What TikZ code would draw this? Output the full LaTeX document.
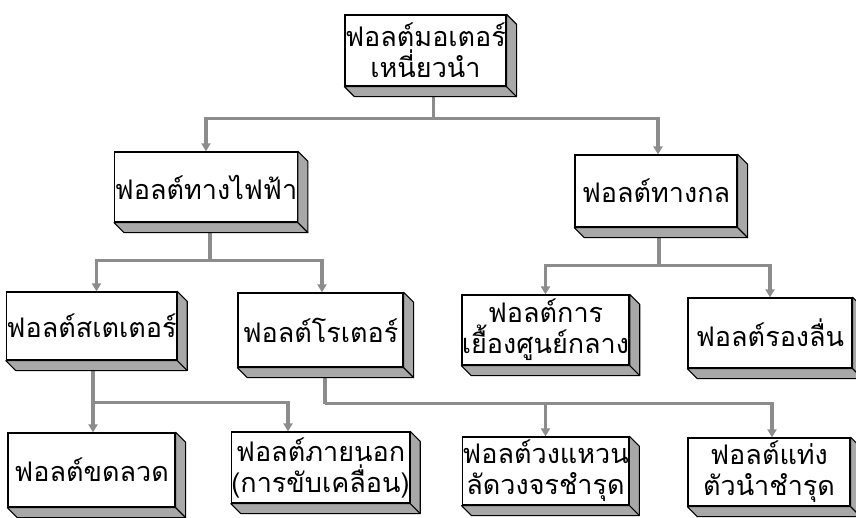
\documentclass[tikz,border=0pt]{standalone}
\usepackage{fontspec}
\newfontfamily\thaifont[Script=Thai]{Loma}
\usetikzlibrary{arrows.meta,backgrounds}
\definecolor{linegray}{RGB}{140,140,140}
\definecolor{slabgray}{RGB}{168,168,168}
\tikzset{
  tbox/.style={draw=black, line width=1.3pt, fill=white, inner sep=0pt, align=center,
    font=\thaifont\fontsize{27}{31}\selectfont},
  slabst/.style={draw=black, line width=1.1pt, fill=slabgray, line join=round},
  conn/.style={draw=linegray, line width=3.6pt},
  arr/.style={conn, -{Triangle[width=9pt,length=8pt]}, shorten >=0pt},
}
\newcommand\slabof[1]{%
  \draw[slabst] (#1.south west) -- ++(10,10) -- ([shift={(10,10)}]#1.south east)
    -- ([shift={(10,10)}]#1.north east) -- (#1.north east) -- (#1.south east) -- cycle;
  \draw[slabst] (#1.south east) -- ++(10,10);}
\begin{document}
\begin{tikzpicture}[x=1pt,y=-1pt]
\useasboundingbox (0,0) rectangle (856,517);
% boxes
\node[tbox, minimum width=159pt, minimum height=71pt] (A) at (425.5,50.5) {ฟอลต์มอเตอร์\\เหนี่ยวนำ};
\node[tbox, minimum width=164pt, minimum height=70pt] (B) at (206,187) {ฟอลต์ทางไฟฟ้า};
\node[tbox, minimum width=162pt, minimum height=72pt] (C) at (656,191) {ฟอลต์ทางกล};
\node[tbox, minimum width=167pt, minimum height=68pt] (D) at (91.5,326) {ฟอลต์สเตเตอร์};
\node[tbox, minimum width=165pt, minimum height=74pt] (E) at (320.5,330) {ฟอลต์โรเตอร์};
\node[tbox, minimum width=165pt, minimum height=70pt] (F) at (545.5,330) {ฟอลต์การ\\เยื้องศูนย์กลาง};
\node[tbox, minimum width=164pt, minimum height=70pt] (G) at (770,333) {ฟอลต์รองลื่น};
\node[tbox, minimum width=167pt, minimum height=74pt] (H) at (91.5,470) {ฟอลต์ขดลวด};
\node[tbox, minimum width=163pt, minimum height=71pt] (I) at (320.5,467.5) {ฟอลต์ภายนอก\\(การขับเคลื่อน)};
\node[tbox, minimum width=165pt, minimum height=68pt] (J) at (545.5,471) {ฟอลต์วงแหวน\\ลัดวงจรชำรุด};
\node[tbox, minimum width=162pt, minimum height=68pt] (K) at (769,472) {ฟอลต์แท่ง\\ตัวนำชำรุด};
\foreach \n in {A,B,C,D,E,F,G,H,I,J,K} {\slabof{\n}}
% connectors
\begin{scope}[on background layer]
\fill[white] (0,0) rectangle (856,517);
\draw[conn] ([xshift=8pt]A.south) -- ++(0,32) coordinate (ja);
\draw[arr] (ja) -| (B.north);
\draw[arr] (ja) -| ([xshift=2pt]C.north);
\draw[conn] ([xshift=4pt]B.south) -- ++(0,38) coordinate (jb);
\draw[arr] (jb) -| ([xshift=5pt]D.north);
\draw[arr] (jb) -| ([xshift=1.5pt]E.north);
\draw[conn] ([xshift=3pt]C.south) -- ++(0,38) coordinate (jc);
\draw[arr] (jc) -| (F.north);
\draw[arr] (jc) -| (G.north);
\draw[conn] ([xshift=1.5pt]D.south) -- ++(0,42) coordinate (jd);
\draw[arr] (jd) -| ([xshift=1.5pt]H.north);
\draw[arr] (jd) -| ([xshift=-32.5pt]I.north);
\draw[conn] ([xshift=4.5pt]E.south) -- ++(0,36) coordinate (je);
\draw[arr] (je) -| (J.north);
\draw[arr] (je) -| ([xshift=3pt]K.north);
\end{scope}
\end{tikzpicture}
\end{document}
